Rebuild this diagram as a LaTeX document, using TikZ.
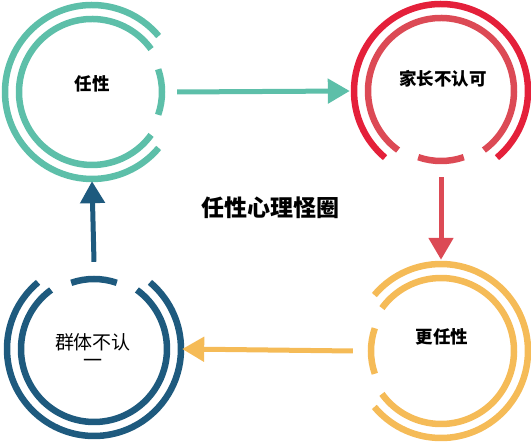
\documentclass[tikz,border=0pt]{standalone}
\usepackage{fontspec}
\setmainfont{Noto Sans CJK SC}
\usetikzlibrary{arrows.meta}
\definecolor{cteal}{HTML}{5DBFA9}
\definecolor{credA}{HTML}{E4203A}
\definecolor{credB}{HTML}{DC4A55}
\definecolor{cblue}{HTML}{1E5A7E}
\definecolor{cyel}{HTML}{F5BB57}
\tikzset{
  ringline/.style={line width=6.5pt},
  ringnode/.style={circle,minimum size=176pt,inner sep=0pt,draw=none},
  conn/.style={line width=5pt,-{Triangle[length=22pt,width=24pt]}},
  lbl/.style={font=\bfseries\fontsize{17.5}{21}\selectfont,inner sep=0pt,text height=0.88em,text depth=0.12em},
  ttl/.style={font=\bfseries\fontsize{23}{27}\selectfont,inner sep=0pt,text height=0.88em,text depth=0.12em}
}
\begin{document}
\begin{tikzpicture}[x=1pt,y=1pt]
\useasboundingbox (0,0) rectangle (531,444);
% centres
\coordinate (c1) at (92,352);
\coordinate (c2) at (441,353);
\coordinate (c3) at (441,93);
\coordinate (c4) at (94,95);
\node[ringnode] (r1) at (c1) {};
\node[ringnode] (r2) at (c2) {};
\node[ringnode] (r3) at (c3) {};
\node[ringnode] (r4) at (c4) {};
% teal ring (gap right)
\draw[ringline,cteal] (c1) ++(40:87) arc[start angle=40,end angle=320,radius=87];
\draw[ringline,cteal] (c1) ++(36:73) arc[start angle=36,end angle=324,radius=73];
\draw[ringline,cteal] (c1) ++(-19:70) arc[start angle=-19,end angle=19,radius=70];
% red ring (gap bottom)
\draw[ringline,credA] (c2) ++(-50:87) arc[start angle=-50,end angle=230,radius=87];
\draw[ringline,credB] (c2) ++(-54:73) arc[start angle=-54,end angle=234,radius=73];
\draw[ringline,credB] (c2) ++(251:70) arc[start angle=251,end angle=289,radius=70];
% yellow ring (gap left)
\draw[ringline,cyel] (c3) ++(220:87) arc[start angle=220,end angle=500,radius=87];
\draw[ringline,cyel] (c3) ++(216:73) arc[start angle=216,end angle=504,radius=73];
\draw[ringline,cyel] (c3) ++(161:70) arc[start angle=161,end angle=199,radius=70];
% blue ring (gap top)
\draw[ringline,cblue] (c4) ++(130:87) arc[start angle=130,end angle=410,radius=87];
\draw[ringline,cblue] (c4) ++(126:73) arc[start angle=126,end angle=414,radius=73];
\draw[ringline,cblue] (c4) ++(71:70) arc[start angle=71,end angle=109,radius=70];
% labels
\node[lbl] (t1) at (92,357) {任性};
\node[lbl] (t2) at (443,362) {家长不认可};
\node[lbl] (t3) at (442,104) {更任性};
\node[font=\fontsize{19}{18}\selectfont,align=center,inner sep=0pt] (t4) at (93,93) {群体不认\\一};
\node[ttl] (title) at (270,231) {任性心理怪圈};
% connectors
\draw[conn,cteal] ([xshift=-3pt]r1.east) -- ([xshift=-3pt]r2.west);
\draw[conn,credB] ([yshift=2pt]r2.south) -- ([yshift=3pt]r3.north);
\draw[conn,cyel] (r3.west) -- (r4.east);
\draw[conn,cblue] ([yshift=-1pt]r4.north) -- ([yshift=-1pt]r1.south);
\end{tikzpicture}
\end{document}
